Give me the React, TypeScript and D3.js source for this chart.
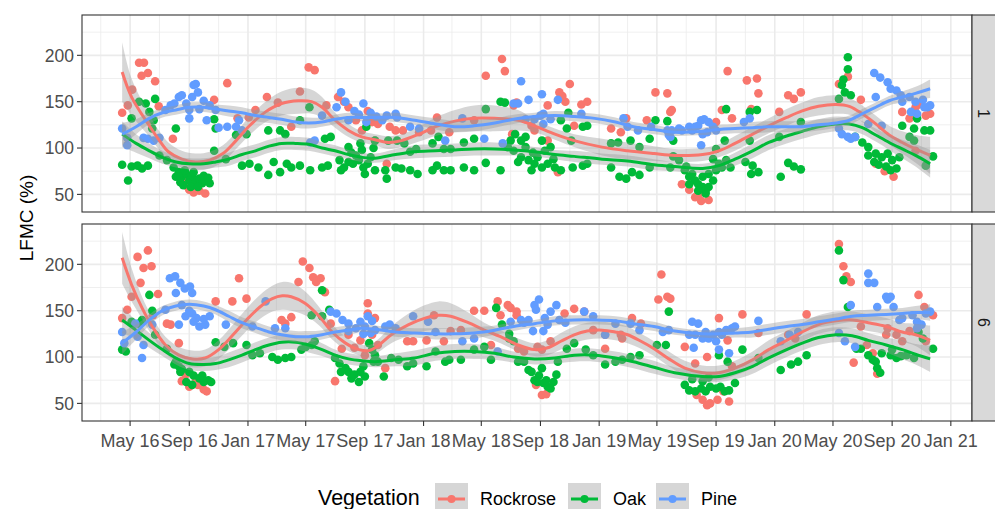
import React from "react";
import * as d3 from "d3";

// x values: months since Jan 1 2016 (fractional), y values: LFMC (%)
const species = ["Rockrose", "Oak", "Pine"];
const colors = ["#F8766D", "#00BA38", "#619CFF"];
const facetLabels = ["1", "6"];
const yTicks = [50, 100, 150, 200];
const yMinor = [75, 125, 175, 225];

const p1Rockrose = [[3.45,138],[3.84,146],[4.14,163],[4.6,192],[4.93,192],[4.77,178],[5.2,181],[5.7,172],[5.95,145],[5.5,130],[6.9,110],[7.5,63],[7.9,58],[8.3,52],[8.7,54],[9.1,51],[7.7,67],[8.0,55],[8.5,57],[10.6,170],[9.7,152],[11.3,132],[12.05,133],[12.5,141],[13.3,155],[14.1,149],[15.0,123],[15.6,161],[16.2,187],[16.6,184],[17.4,146],[18.2,155],[18.6,150],[18.9,144],[19.4,130],[19.8,119],[20.2,140],[20.5,128],[20.7,108],[20.9,126],[21.7,123],[22.1,119],[22.6,119],[21.5,83],[23.7,117],[24.5,119],[24.9,133],[25.8,117],[27.5,130],[28.3,178],[29.4,196],[29.6,183],[30.2,146],[30.4,149],[30.1,115],[31.4,124],[31.6,119],[32.5,146],[33.3,160],[33.5,156],[34.0,169],[33.7,150],[34.8,147],[35.2,150],[34.3,124],[36.8,121],[37.5,117],[37.9,132],[39.3,130],[39.9,160],[40.7,159],[40.9,139],[32.5,108],[33.2,74],[41.0,141],[44.8,183],[46.1,173],[46.8,175],[46.9,159],[44.4,141],[45.1,132],[46.4,142],[44.0,128],[48.9,157],[49.3,153],[49.8,160],[48.3,139],[52.4,169],[53.0,177],[53.9,152],[54.9,83],[56.1,69],[55.5,75],[56.7,139],[57.2,132],[57.6,144],[57.8,147],[58.3,135],[58.6,137],[57.6,97],[42.6,47],[43.0,43],[43.5,44],[42.8,49],[41.7,61],[42.2,55]];
const p1Oak = [[3.45,82],[3.86,65],[4.1,80],[4.5,81],[4.8,78],[5.2,81],[4.1,132],[4.6,150],[5.05,148],[5.3,139],[5.7,153],[5.6,130],[5.5,121],[7.1,121],[6.0,92],[6.5,87],[6.95,79],[7.3,74],[7.5,69],[7.8,72],[8.0,65],[8.2,70],[8.45,63],[8.7,67],[8.9,62],[9.1,65],[9.4,62],[7.4,63],[8.1,58],[8.6,58],[7.1,69],[7.7,76],[8.3,74],[9.0,70],[9.3,68],[7.6,60],[9.7,131],[9.7,97],[9.8,121],[10.5,88],[11.2,114],[11.6,81],[12.1,83],[11.9,115],[12.7,79],[13.4,71],[13.8,85],[14.25,74],[14.7,83],[15.0,79],[15.6,81],[16.3,76],[13.4,119],[14.25,119],[14.6,115],[15.6,130],[16.25,144],[17.1,79],[17.5,81],[17.3,110],[17.7,112],[18.3,87],[18.6,79],[18.9,85],[19.2,83],[19.6,87],[19.9,79],[20.2,83],[20.7,76],[20.0,72],[18.4,76],[19.4,92],[19.7,105],[20.1,123],[18.9,101],[19.1,95],[19.8,98],[20.4,90],[20.6,100],[20.7,108],[21.4,76],[21.5,67],[22.1,79],[22.5,78],[23.1,76],[23.6,72],[21.6,108],[22.2,108],[22.7,105],[23.1,96],[23.5,99],[24.6,105],[25.0,112],[24.6,76],[24.9,81],[25.4,76],[25.9,76],[25.4,99],[25.9,99],[26.8,79],[27.5,76],[28.3,84],[26.8,106],[27.5,110],[28.3,142],[29.3,150],[29.6,149],[29.3,76],[30.0,108],[30.3,115],[30.7,108],[31.0,112],[30.2,97],[30.7,90],[31.2,87],[31.6,83],[32.1,79],[32.5,83],[33.0,79],[33.4,76],[31.4,76],[31.8,90],[32.3,97],[32.7,101],[31.0,101],[29.8,101],[32.1,108],[31.5,95],[32.9,88],[30.5,85],[33.4,130],[33.8,121],[34.1,108],[33.9,138],[34.2,79],[34.9,81],[35.2,83],[34.9,123],[35.2,124],[36.8,79],[37.4,69],[37.9,67],[38.3,74],[38.8,71],[36.8,105],[37.3,106],[38.2,108],[38.8,101],[39.5,110],[39.5,79],[39.9,130],[40.7,129],[40.9,79],[41.1,108],[41.1,91],[41.5,87],[41.9,76],[42.2,69],[42.4,72],[42.6,65],[42.8,61],[43.1,58],[43.3,54],[43.5,58],[43.8,65],[43.1,69],[43.5,72],[44.0,76],[44.2,83],[44.4,79],[44.7,87],[45.0,79],[43.3,51],[42.8,54],[42.2,61],[42.0,80],[43.8,88],[44.0,99],[44.6,108],[44.7,142],[46.3,139],[46.8,141],[46.0,85],[46.5,81],[46.9,74],[46.4,72],[46.3,108],[48.3,112],[48.4,69],[48.9,84],[49.3,80],[49.8,77],[49.8,128],[52.4,153],[53.0,198],[53.0,185],[52.7,174],[52.6,168],[52.8,160],[53.2,157],[53.5,112],[54.0,106],[54.4,101],[54.9,94],[55.3,90],[55.7,94],[56.0,87],[56.5,90],[54.4,92],[54.8,85],[55.1,82],[55.6,80],[55.9,76],[56.3,78],[56.7,124],[57.5,121],[57.7,132],[58.2,119],[58.6,119],[57.2,112],[57.5,108],[58.3,81],[58.8,91]];
const p1Pine = [[3.45,121],[3.8,103],[3.8,111],[4.9,111],[5.2,110],[5.6,108],[6.0,111],[6.4,141],[6.75,146],[7.0,148],[7.3,155],[7.5,157],[7.8,148],[8.0,141],[8.2,155],[8.3,168],[8.45,169],[8.6,160],[8.7,142],[9.0,151],[9.4,146],[9.8,141],[8.0,132],[10.0,122],[9.2,130],[10.6,123],[11.2,123],[11.6,119],[11.4,130],[16.3,106],[16.6,108],[17.1,135],[18.1,144],[18.4,160],[18.7,150],[18.9,130],[19.3,140],[19.6,136],[19.9,148],[20.1,128],[20.4,138],[20.8,134],[21.2,130],[21.5,135],[22.1,137],[22.2,133],[23.1,123],[23.7,121],[25.5,108],[26.7,132],[28.2,110],[29.45,105],[30.2,148],[30.5,148],[30.7,172],[31.2,152],[31.0,131],[31.6,131],[32.0,135],[32.2,137],[32.1,158],[33.2,152],[32.7,131],[32.2,126],[34.8,137],[37.7,132],[38.0,123],[38.7,119],[39.6,123],[40.7,119],[40.9,112],[40.8,114],[41.0,119],[41.5,121],[41.7,119],[42.2,123],[42.4,119],[42.6,123],[42.8,124],[43.0,130],[43.2,131],[43.5,128],[43.8,123],[44.0,119],[43.1,115],[43.4,117],[43.0,103],[46.3,132],[45.9,128],[52.4,121],[52.6,115],[53.0,112],[53.2,110],[53.5,112],[54.4,126],[54.9,155],[54.8,181],[55.2,176],[55.7,171],[55.9,164],[56.3,162],[56.6,157],[56.7,150],[57.2,155],[57.6,150],[58.1,152],[58.4,144],[58.6,146],[58.2,144],[57.7,137],[57.3,139],[55.3,124]];

const p2Rockrose = [[3.45,142],[3.8,151],[4.1,165],[4.5,208],[5.2,215],[4.9,196],[5.45,198],[4.7,180],[5.9,168],[5.55,145],[6.5,136],[6.75,135],[7.3,115],[7.5,74],[8.0,68],[8.45,77],[9.0,65],[7.75,81],[8.6,70],[9.2,63],[9.8,160],[10.95,160],[11.4,185],[11.9,163],[14.35,140],[14.6,136],[15.0,143],[15.5,181],[15.8,203],[16.25,196],[16.5,186],[17.0,185],[16.7,181],[17.3,170],[17.7,136],[18.0,74],[18.9,124],[20.2,158],[20.2,147],[20.5,124],[18.45,109],[19.3,110],[19.7,118],[20.0,102],[20.7,142],[20.9,113],[21.4,88],[22.9,117],[23.3,117],[24.2,118],[24.7,145],[25.4,117],[25.9,128],[26.6,129],[27.5,150],[28.2,150],[28.65,113],[29.1,160],[29.3,145],[29.8,156],[30.0,153],[30.4,149],[30.4,145],[30.5,109],[30.9,106],[31.8,111],[32.1,108],[31.7,70],[32.1,59],[32.4,60],[32.7,117],[33.65,147],[34.3,152],[35.0,149],[35.6,129],[36.4,124],[36.4,109],[37.5,124],[37.6,120],[38.3,142],[38.9,136],[40.3,189],[40.1,162],[40.7,165],[40.9,163],[41.9,111],[44.2,142],[44.8,118],[45.8,146],[43.4,100],[42.6,93],[42.7,59],[43.1,54],[43.4,48],[43.6,50],[44.1,54],[44.5,63],[44.9,52],[45.1,90],[46.9,126],[50.2,146],[49.4,120],[48.9,124],[52.4,222],[52.7,198],[52.9,187],[53.2,181],[53.4,94],[53.9,133],[54.3,113],[55.0,82],[54.7,104],[55.6,124],[56.3,124],[56.7,117],[55.7,131],[57.8,167],[58.2,154],[58.8,145],[58.3,117],[57.2,128]];
const p2Oak = [[3.45,108],[3.7,106],[4.1,138],[4.6,136],[4.8,140],[5.3,167],[5.7,124],[6.5,109],[5.5,150],[7.1,95],[7.3,90],[7.5,87],[8.0,84],[8.3,80],[8.7,77],[9.0,73],[9.3,75],[9.5,73],[7.8,73],[8.2,70],[7.4,84],[7.0,92],[8.9,80],[9.8,116],[10.4,111],[11.0,115],[11.9,113],[12.3,102],[12.8,104],[13.7,100],[14.1,97],[14.6,99],[15.0,100],[15.7,108],[16.0,111],[16.4,113],[16.6,117],[17.1,172],[17.6,151],[16.4,145],[17.1,144],[18.0,99],[18.3,93],[18.7,88],[18.9,84],[19.3,81],[19.7,84],[20.0,79],[19.6,73],[19.1,77],[18.4,84],[20.3,115],[20.5,108],[19.9,90],[20.6,95],[20.7,102],[20.9,95],[21.3,79],[21.8,99],[22.3,97],[22.9,90],[23.3,93],[24.2,90],[24.8,106],[25.5,95],[25.8,97],[26.6,97],[27.5,108],[28.2,111],[28.65,97],[29.0,153],[29.4,135],[29.9,125],[29.9,120],[30.2,117],[30.5,95],[30.9,95],[31.2,86],[31.4,84],[31.6,75],[31.8,73],[32.2,72],[32.5,68],[32.9,73],[33.1,81],[32.4,75],[32.7,66],[32.1,88],[31.9,80],[33.2,95],[33.8,109],[34.3,115],[35.1,108],[35.6,102],[36.4,92],[37.1,95],[37.6,97],[38.2,100],[38.8,102],[40.0,113],[40.6,113],[40.8,149],[41.9,70],[42.2,64],[42.6,63],[43.0,66],[43.3,63],[43.6,68],[44.0,66],[44.3,68],[44.6,63],[44.9,64],[45.3,72],[43.1,74],[44.2,102],[44.8,95],[45.8,108],[43.5,78],[42.4,76],[46.9,99],[48.4,86],[49.1,92],[49.6,95],[50.2,102],[52.4,215],[52.7,183],[53.0,154],[53.6,109],[53.9,109],[54.4,102],[54.7,97],[54.9,95],[55.0,88],[55.3,104],[55.9,102],[56.3,99],[56.6,101],[57.0,102],[56.0,108],[57.5,99],[57.8,127],[58.1,120],[58.8,109],[55.2,83]];
const p2Pine = [[3.45,127],[3.6,115],[4.35,136],[4.8,99],[4.9,113],[4.5,122],[5.5,135],[6.4,151],[6.7,185],[7.05,187],[7.4,180],[7.7,174],[8.05,176],[8.2,169],[7.1,169],[7.3,135],[7.75,144],[8.2,147],[8.5,142],[8.7,133],[9.1,135],[9.4,144],[7.5,156],[8.0,150],[8.3,138],[9.0,141],[10.5,135],[12.3,133],[13.2,160],[13.9,131],[14.6,131],[17.7,149],[18.1,147],[18.5,140],[18.9,136],[19.4,131],[19.7,138],[20.0,133],[20.4,126],[20.7,129],[19.9,125],[20.2,144],[20.5,139],[18.9,128],[21.4,133],[21.7,135],[22.1,131],[23.3,144],[24.3,138],[24.8,127],[26.7,117],[27.5,120],[29.1,106],[30.0,138],[30.7,140],[30.9,137],[31.2,140],[31.5,128],[31.6,156],[31.7,151],[31.9,162],[32.3,142],[32.5,135],[32.2,128],[32.7,149],[33.1,156],[33.3,140],[33.7,137],[35.0,149],[35.6,144],[36.4,124],[37.1,136],[38.2,136],[38.8,129],[40.4,127],[40.8,129],[42.4,138],[42.8,136],[43.3,127],[43.8,124],[44.2,127],[44.7,129],[45.1,131],[45.3,133],[42.2,124],[42.6,124],[43.1,120],[43.5,120],[44.0,117],[44.4,124],[42.5,110],[44.2,108],[44.9,104],[46.9,139],[48.4,117],[49.0,124],[49.6,127],[52.4,126],[53.2,156],[52.8,117],[53.5,111],[54.4,190],[54.4,180],[54.8,180],[55.0,154],[55.6,165],[55.9,165],[55.7,162],[56.1,154],[56.5,140],[56.7,142],[57.4,145],[57.7,138],[58.3,147],[58.6,149],[58.0,135],[57.7,131]];

// smooth fits: [month, fitted value, half-width of band]
const s1Rockrose = [[3.45,182,32],[4.1,155,20],[5.3,124,12],[6.0,108,10],[6.6,96,10],[7.5,88,9],[8.45,85,9],[9.4,87,9],[10.3,94,9],[11.2,108,9],[12.1,124,10],[13.2,139,11],[14.35,148,13],[15.5,151,14],[16.4,150,13],[17.1,144,11],[18.0,130,8],[18.9,119,7],[19.8,112,6],[20.7,109,6],[21.6,106,7],[22.5,108,7],[23.7,115,8],[24.8,123,10],[26.2,129,12],[27.5,132,14],[28.9,132,14],[30.5,130,11],[31.6,124,7],[33.0,115,6],[34.3,108,7],[36.2,101,9],[38.0,97,9],[39.8,94,8],[41.2,92,7],[43.1,93,7],[44.2,97,7],[45.3,105,8],[46.5,115,8],[47.6,124,8],[48.8,133,9],[49.9,140,9],[51.0,145,10],[52.2,147,10],[53.1,145,9],[54.0,137,9],[54.9,126,9],[55.8,114,10],[56.7,106,12],[57.6,99,15],[58.6,92,20]];
const s1Oak = [[3.45,115,14],[4.4,105,10],[5.3,97,8],[6.2,90,7],[7.1,85,6],[8.0,83,6],[9.0,83,6],[9.8,85,6],[10.7,88,7],[11.6,93,7],[12.5,97,7],[13.45,102,7],[14.35,105,7],[15.3,105,7],[16.2,104,7],[17.1,100,6],[18.0,97,6],[18.9,93,5],[19.8,90,5],[20.7,89,5],[22.1,93,6],[23.4,96,7],[24.8,97,7],[26.2,98,7],[27.5,99,7],[28.9,99,7],[30.2,98,6],[31.6,96,5],[33.0,93,5],[34.3,91,6],[36.2,88,6],[38.0,86,6],[39.8,82,6],[41.2,80,5],[43.1,78,5],[44.2,81,6],[45.3,88,7],[46.5,97,8],[47.6,106,8],[48.8,113,8],[49.9,118,8],[51.0,123,8],[52.2,126,8],[53.1,126,7],[54.0,122,7],[54.9,114,7],[55.8,106,8],[56.7,99,10],[57.6,92,12],[58.6,83,15]];
const s1Pine = [[3.45,115,12],[4.4,123,8],[5.3,132,6],[6.2,138,5],[7.1,141,5],[8.0,144,5],[9.0,144,5],[9.8,142,5],[10.7,140,6],[11.6,138,6],[12.5,135,6],[13.45,133,6],[14.35,131,6],[15.3,128,6],[16.2,127,6],[17.1,128,5],[18.0,131,5],[18.9,133,5],[19.8,133,4],[20.7,133,4],[22.1,133,5],[23.4,130,5],[24.8,126,6],[26.2,123,6],[27.5,124,6],[28.9,127,5],[30.2,131,5],[31.6,134,4],[33.0,135,5],[34.3,134,5],[35.7,132,5],[37.1,128,5],[38.4,123,5],[39.8,120,5],[41.2,117,4],[43.1,118,4],[44.2,120,5],[45.3,121,5],[46.5,122,6],[47.6,123,6],[48.8,123,6],[49.9,123,6],[51.0,125,6],[52.2,127,5],[53.1,130,5],[54.0,137,5],[54.9,144,5],[55.8,151,5],[56.7,155,6],[57.6,159,7],[58.6,164,10]];

const s2Rockrose = [[3.45,207,28],[4.1,178,18],[4.8,153,12],[5.5,133,10],[6.4,113,9],[7.3,102,9],[8.2,98,9],[9.1,99,9],[10.0,108,10],[11.0,124,11],[11.9,140,12],[12.8,154,13],[13.7,163,14],[14.4,166,15],[15.0,165,15],[15.95,158,13],[16.9,144,10],[17.8,127,8],[18.7,115,7],[19.6,108,6],[20.3,107,6],[20.9,112,7],[21.8,124,9],[23.0,135,12],[24.1,142,14],[25.0,145,15],[25.9,144,14],[27.1,137,11],[28.2,129,8],[29.3,122,7],[30.5,113,7],[31.6,108,7],[32.5,110,8],[33.4,117,9],[34.3,124,9],[35.2,128,9],[36.2,129,9],[37.1,127,9],[38.0,124,9],[38.9,117,8],[39.8,109,8],[40.8,98,8],[41.9,88,8],[43.1,83,8],[44.2,83,8],[45.3,88,8],[46.5,97,9],[47.6,108,10],[48.8,118,10],[49.9,127,10],[51.0,135,10],[52.2,139,10],[53.3,140,9],[54.4,137,9],[55.6,133,9],[56.7,127,10],[57.6,124,12],[58.6,118,16]];
const s2Oak = [[3.45,140,14],[4.4,129,10],[5.3,118,8],[6.2,108,7],[7.1,99,7],[8.0,93,7],[9.0,92,7],[9.8,93,7],[10.7,97,8],[11.6,102,8],[12.5,108,8],[13.45,113,8],[14.35,116,8],[15.3,116,8],[16.2,113,8],[17.1,108,7],[18.0,102,6],[18.9,98,6],[19.8,96,6],[20.7,95,6],[22.1,97,7],[23.4,99,8],[24.8,104,8],[26.2,106,8],[27.5,106,8],[28.9,104,7],[30.2,100,6],[31.6,98,6],[33.0,99,6],[34.3,102,7],[35.7,102,7],[37.1,99,7],[38.4,95,7],[39.8,89,7],[41.2,83,6],[43.1,79,6],[44.2,79,6],[45.3,83,7],[46.5,90,8],[47.6,99,8],[48.8,108,8],[49.9,115,8],[51.0,121,8],[52.2,124,8],[53.3,123,8],[54.4,118,8],[55.6,113,8],[56.7,108,10],[57.6,103,11],[58.6,98,14]];
const s2Pine = [[3.45,115,12],[4.4,127,8],[5.3,140,6],[6.2,150,5],[7.1,155,5],[8.0,157,5],[9.0,155,5],[9.8,151,5],[10.7,144,6],[11.6,137,6],[12.5,132,6],[13.45,127,6],[14.35,124,6],[15.3,122,6],[16.2,122,6],[17.1,124,5],[18.0,127,5],[18.9,129,5],[19.8,131,4],[20.7,130,4],[22.1,127,5],[23.4,126,5],[24.8,125,6],[26.2,125,6],[27.5,126,6],[28.9,129,5],[30.2,133,5],[31.6,136,4],[33.0,139,5],[34.3,140,5],[35.7,140,5],[37.1,139,5],[38.4,136,5],[39.8,133,5],[41.2,128,4],[43.1,125,4],[44.2,125,5],[45.3,126,5],[46.5,127,6],[47.6,130,6],[48.8,133,6],[49.9,135,6],[51.0,138,6],[52.2,141,6],[53.3,144,6],[54.4,145,6],[55.6,146,6],[56.7,147,6],[57.6,148,7],[58.6,148,9]];

const panelPoints = [[p1Rockrose, p1Oak, p1Pine], [p2Rockrose, p2Oak, p2Pine]];
const panelSmooth = [[s1Rockrose, s1Oak, s1Pine], [s2Rockrose, s2Oak, s2Pine]];

function monthToDate(m: number): Date {
  const whole = Math.floor(m);
  const y = 2016 + Math.floor(whole / 12);
  const mo = whole % 12;
  const start = new Date(y, mo, 1);
  const end = new Date(y, mo + 1, 1);
  return new Date(start.getTime() + (m - whole) * (end.getTime() - start.getTime()));
}

const FONT = "'Liberation Sans', Arial, Helvetica, sans-serif";

export default function App() {
  const W = 995, H = 509;
  const left = 82, right = 972;
  const panels = [{ top: 15, bottom: 212 }, { top: 224, bottom: 421 }];
  const x = d3.scaleTime().domain([new Date(2016, 0, 22), new Date(2021, 1, 14)]).range([left, right]);
  const majorTicks = x.ticks(d3.timeMonth.every(4) as any);
  const minorTicks = x.ticks(d3.timeMonth.every(2) as any).filter((d: Date) => d.getMonth() % 4 !== 0);
  const fmt = d3.timeFormat("%b %y");

  return (
    <svg width={W} height={H} style={{ position: "absolute", left: 0, top: 0, background: "#fff" }} fontFamily={FONT}>
      <defs>
        {panels.map((p, i) => (
          <clipPath id={`clip${i}`} key={i}>
            <rect x={left} y={p.top} width={right - left} height={p.bottom - p.top} />
          </clipPath>
        ))}
      </defs>
      {panels.map((p, pi) => {
        const y = d3.scaleLinear().domain([31, 243.5]).range([p.bottom, p.top]);
        const line = d3.line<number[]>().x(d => x(monthToDate(d[0]))).y(d => y(d[1])).curve(d3.curveCatmullRom);
        const area = d3.area<number[]>().x(d => x(monthToDate(d[0]))).y0(d => y(d[1] - d[2])).y1(d => y(d[1] + d[2])).curve(d3.curveCatmullRom);
        return (
          <g key={pi}>
            <rect x={left} y={p.top} width={right - left} height={p.bottom - p.top} fill="#fff" />
            {yMinor.map(v => (
              <line key={"ym" + v} x1={left} x2={right} y1={y(v)} y2={y(v)} stroke="#EBEBEB" strokeWidth={0.8} />
            ))}
            {minorTicks.map((d: Date, i: number) => (
              <line key={"xm" + i} x1={x(d)} x2={x(d)} y1={p.top} y2={p.bottom} stroke="#EBEBEB" strokeWidth={0.8} />
            ))}
            {yTicks.map(v => (
              <line key={"yM" + v} x1={left} x2={right} y1={y(v)} y2={y(v)} stroke="#EBEBEB" strokeWidth={1.6} />
            ))}
            {majorTicks.map((d: Date, i: number) => (
              <line key={"xM" + i} x1={x(d)} x2={x(d)} y1={p.top} y2={p.bottom} stroke="#EBEBEB" strokeWidth={1.6} />
            ))}
            <g clipPath={`url(#clip${pi})`}>
              {panelPoints[pi].map((pts, si) => (
                <g key={si} fill={colors[si]}>
                  {pts.map((d, k) => (
                    <circle key={k} cx={x(monthToDate(d[0]))} cy={y(d[1])} r={4.3} />
                  ))}
                </g>
              ))}
              {panelSmooth[pi].map((sm, si) => (
                <g key={si}>
                  <path d={area(sm) || ""} fill="#999999" fillOpacity={0.4} />
                  <path d={line(sm) || ""} fill="none" stroke={colors[si]} strokeWidth={3} />
                </g>
              ))}
            </g>
            <rect x={left} y={p.top} width={right - left} height={p.bottom - p.top} fill="none" stroke="#333333" strokeWidth={1.1} />
            {/* strip */}
            <rect x={right} y={p.top} width={35} height={p.bottom - p.top} fill="#D9D9D9" stroke="#333333" strokeWidth={1.1} />
            <text transform={`translate(${984},${(p.top + p.bottom) / 2}) rotate(90)`} textAnchor="middle" dy="0.35em" fontSize={16} fill="#1A1A1A">{facetLabels[pi]}</text>
            {/* y axis */}
            {yTicks.map(v => (
              <g key={"yt" + v}>
                <line x1={77} x2={left} y1={y(v)} y2={y(v)} stroke="#333333" strokeWidth={1.1} />
                <text x={74} y={y(v)} dy="0.36em" textAnchor="end" fontSize={17.5} fill="#4D4D4D">{v}</text>
              </g>
            ))}
          </g>
        );
      })}
      {/* x axis */}
      {majorTicks.map((d: Date, i: number) => (
        <g key={"xt" + i}>
          <line x1={x(d)} x2={x(d)} y1={421} y2={426} stroke="#333333" strokeWidth={1.1} />
          <text x={x(d)} y={447} textAnchor="middle" fontSize={18} fill="#4D4D4D">{fmt(d)}</text>
        </g>
      ))}
      <text transform="translate(33,218) rotate(-90)" textAnchor="middle" fontSize={19} fill="#000">LFMC (%)</text>
      {/* legend */}
      <text x={318} y={505} fontSize={21.5} fill="#000">Vegetation</text>
      {species.map((s, i) => {
        const kx = [435, 568, 656][i];
        return (
          <g key={s}>
            <rect x={kx} y={483} width={33} height={33} fill="#D6D6D6" />
            <line x1={kx + 3} x2={kx + 30} y1={499} y2={499} stroke={colors[i]} strokeWidth={3} />
            <circle cx={kx + 16.5} cy={499} r={4} fill={colors[i]} />
            <text x={kx + 45} y={505} fontSize={18} fill="#000">{s}</text>
          </g>
        );
      })}
    </svg>
  );
}
